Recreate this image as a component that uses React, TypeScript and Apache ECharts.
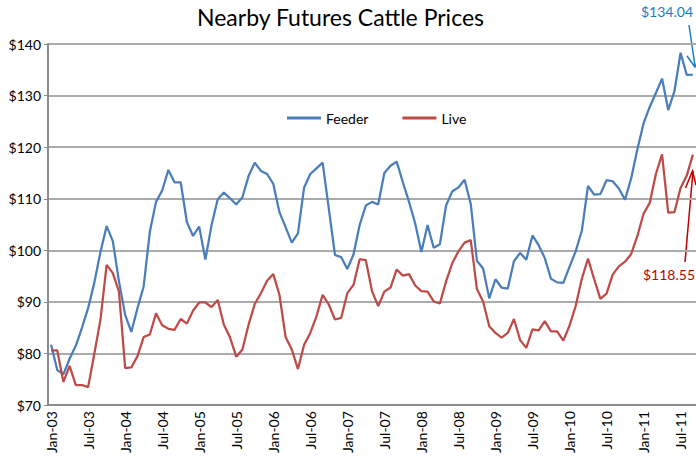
import React, { useEffect, useRef } from "react";
import * as echarts from "echarts";

const monthNames = ["Jan", "Feb", "Mar", "Apr", "May", "Jun", "Jul", "Aug", "Sep", "Oct", "Nov", "Dec"];
const years = ["03", "04", "05", "06", "07", "08", "09", "10", "11"];
const monthCount = 105; // Jan-03 .. Sep-11

const categories: string[] = [];
for (let i = 0; i < monthCount; i++) {
  categories.push(monthNames[i % 12] + "-" + years[Math.floor(i / 12)]);
}

const feeder = [
  81.7, 76.8, 76.0, 79.0, 81.5, 85.0, 88.8, 93.7, 99.7, 104.7, 101.8, 94.0,
  87.5, 84.2, 88.8, 93.0, 103.6, 109.4, 111.6, 115.6, 113.2, 113.2, 105.5, 102.8,
  104.6, 98.2, 104.9, 109.9, 111.2, 110.1, 108.9, 110.3, 114.4, 117.0, 115.4, 114.8,
  112.9, 107.4, 104.5, 101.5, 103.3, 112.2, 114.8, 115.9, 117.0, 108.1, 99.1, 98.7,
  96.4, 99.2, 104.9, 108.7, 109.4, 108.9, 115.0, 116.4, 117.2, 113.2, 109.4, 105.2,
  99.7, 104.9, 100.5, 101.2, 108.7, 111.4, 112.2, 113.7, 109.0, 98.0, 96.5, 90.7,
  94.4, 92.8, 92.6, 97.9, 99.5, 98.2, 102.9, 101.0, 98.5, 94.5, 93.8, 93.7,
  96.8, 99.8, 103.8, 112.5, 110.8, 110.9, 113.6, 113.4, 112.0, 109.8, 114.0, 119.6,
  124.6, 127.8, 130.5, 133.3, 127.2, 130.8, 138.3, 134.0, 134.04,
];

const live = [
  80.6, 80.6, 74.5, 77.6, 73.9, 73.9, 73.5, 79.9, 86.6, 97.2, 95.6, 92.0,
  77.2, 77.3, 79.5, 83.2, 83.7, 87.8, 85.5, 84.8, 84.6, 86.7, 85.8, 88.3,
  89.9, 89.9, 89.0, 90.4, 85.6, 83.1, 79.4, 80.8, 85.6, 89.6, 91.7, 94.1,
  95.4, 91.4, 83.2, 80.8, 77.0, 81.7, 84.0, 87.2, 91.4, 89.5, 86.6, 86.9,
  91.7, 93.3, 98.3, 98.1, 92.1, 89.2, 92.0, 92.8, 96.3, 95.1, 95.4, 93.2,
  92.1, 92.0, 90.1, 89.7, 94.0, 97.5, 99.8, 101.5, 102.0, 92.5, 90.1, 85.3,
  84.0, 83.1, 84.0, 86.7, 82.6, 81.1, 84.7, 84.5, 86.3, 84.3, 84.3, 82.5,
  85.4, 89.2, 94.5, 98.4, 94.4, 90.6, 91.6, 95.3, 96.9, 97.8, 99.3, 102.8,
  107.1, 109.2, 114.8, 118.6, 107.3, 107.4, 112.1, 114.5, 118.55,
];

const feederLabel = "$134.04";
const liveLabel = "$118.55";

const FONT = "Lato, 'Open Sans', sans-serif";

export default function App() {
  const ref = useRef<HTMLDivElement>(null);
  useEffect(() => {
    document.body.style.margin = "0";
    document.body.style.overflow = "hidden";
    if (!ref.current) return;
    const chart = echarts.init(ref.current, null, { renderer: "svg" });
    chart.setOption({
      animation: false,
      backgroundColor: "#ffffff",
      title: {
        text: "Nearby Futures Cattle Prices",
        left: 192,
        top: 0,
        textStyle: { fontFamily: FONT, fontSize: 23, fontWeight: "normal", color: "#000" },
      },
      legend: {
        left: 282,
        top: 106,
        itemWidth: 34,
        itemHeight: 3,
        itemGap: 34,
        icon: "rect",
        textStyle: { fontFamily: FONT, fontSize: 14, color: "#000" },
        data: ["Feeder", "Live"],
      },
      grid: { left: 48, right: 0, top: 44, bottom: 48, containLabel: false },
      xAxis: {
        type: "category",
        data: categories,
        boundaryGap: true,
        axisLine: { lineStyle: { color: "#8c8c8c", width: 2 } },
        axisTick: { interval: 5, length: 5, lineStyle: { color: "#8c8c8c", width: 1 } },
        axisLabel: {
          interval: 5,
          rotate: 90,
          margin: 6,
          fontFamily: FONT,
          fontSize: 14,
          color: "#000",
        },
        splitLine: { show: false },
      },
      yAxis: {
        type: "value",
        min: 70,
        max: 140,
        interval: 10,
        axisLine: { show: true, lineStyle: { color: "#8c8c8c", width: 2 } },
        axisTick: { show: true, length: 4, lineStyle: { color: "#8c8c8c" } },
        axisLabel: {
          formatter: (v: number) => "$" + v,
          fontFamily: FONT,
          fontSize: 14,
          color: "#000",
          margin: 7,
        },
        splitLine: { lineStyle: { color: "#ababab", width: 2 } },
      },
      series: [
        {
          name: "Feeder",
          type: "line",
          data: feeder,
          showSymbol: false,
          symbol: "none",
          lineStyle: { color: "#4a7ebb", width: 2.25 },
          itemStyle: { color: "#4a7ebb" },
        },
        {
          name: "Live",
          type: "line",
          data: live,
          showSymbol: false,
          symbol: "none",
          lineStyle: { color: "#be4b48", width: 2.25 },
          itemStyle: { color: "#be4b48" },
        },
      ],
      graphic: [
        {
          type: "text",
          left: 641,
          top: 4,
          style: { text: feederLabel, fill: "#1a7cc4", font: "14px " + FONT },
        },
        {
          type: "line",
          shape: { x1: 689, y1: 25, x2: 695, y2: 66 },
          style: { stroke: "#1a7cc4", lineWidth: 1.5 },
        },
        {
          type: "polyline",
          shape: { points: [[687, 56], [695, 67], [700, 56]] },
          style: { stroke: "#1a7cc4", lineWidth: 1.5, fill: "none" },
        },
        {
          type: "text",
          left: 643,
          top: 267,
          style: { text: liveLabel, fill: "#c00000", font: "14px " + FONT },
        },
        {
          type: "line",
          shape: { x1: 685, y1: 262, x2: 693, y2: 171 },
          style: { stroke: "#c00000", lineWidth: 1.5 },
        },
        {
          type: "polyline",
          shape: { points: [[685.5, 188], [692.5, 171], [696, 185]] },
          style: { stroke: "#c00000", lineWidth: 1.5, fill: "none" },
        },
      ],
    });
    return () => chart.dispose();
  }, []);
  return <div ref={ref} style={{ width: 696, height: 456 }} />;
}
